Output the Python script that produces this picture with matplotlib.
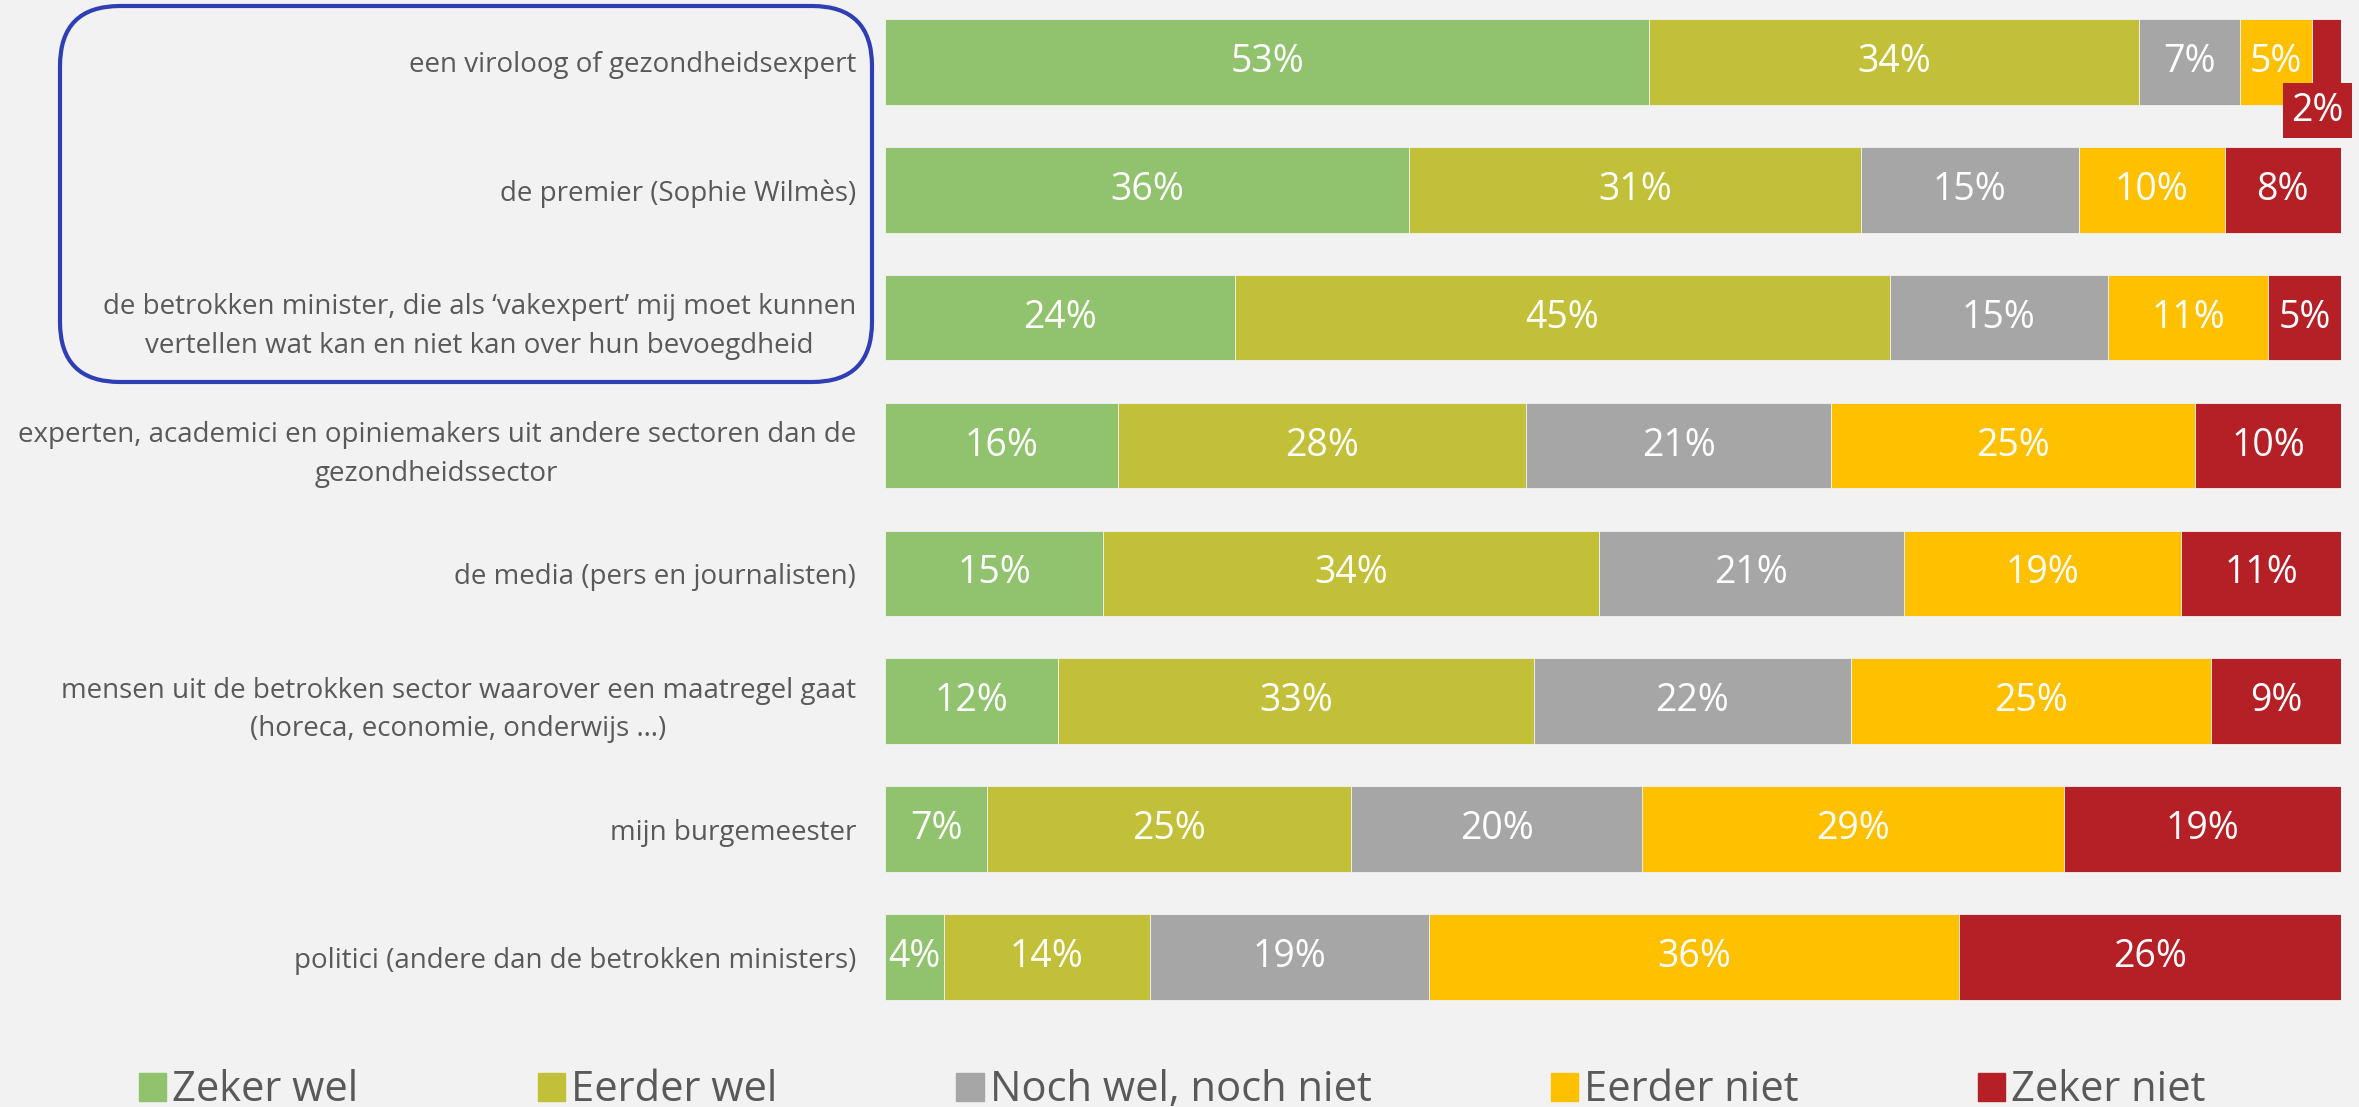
import matplotlib.pyplot as plt
from matplotlib.patches import Patch, FancyBboxPatch

plt.rcParams['font.family'] = ['Open Sans', 'DejaVu Sans']

categories = [
    'een viroloog of gezondheidsexpert',
    'de premier (Sophie Wilmès)',
    'de betrokken minister, die als ‘vakexpert’ mij moet kunnen\nvertellen wat kan en niet kan over hun bevoegdheid',
    'experten, academici en opiniemakers uit andere sectoren dan de\ngezondheidssector',
    'de media (pers en journalisten)',
    'mensen uit de betrokken sector waarover een maatregel gaat\n(horeca, economie, onderwijs …)',
    'mijn burgemeester',
    'politici (andere dan de betrokken ministers)',
]
series = ['Zeker wel', 'Eerder wel', 'Noch wel, noch niet', 'Eerder niet', 'Zeker niet']
zeker_wel = [53, 36, 24, 16, 15, 12, 7, 4]
eerder_wel = [34, 31, 45, 28, 34, 33, 25, 14]
noch = [7, 15, 15, 21, 21, 22, 20, 19]
eerder_niet = [5, 10, 11, 25, 19, 25, 29, 36]
zeker_niet = [2, 8, 5, 10, 11, 9, 19, 26]
colors = ['#91C36E', '#C2BF38', '#A6A6A6', '#FFC000', '#B52026']

values = [zeker_wel, eerder_wel, noch, eerder_niet, zeker_niet]
bg = '#F2F2F2'
txt = '#595959'

fig = plt.figure(figsize=(23.59, 11.07), dpi=100, facecolor=bg)
ax = fig.add_axes([0.3752, 0.0777, 0.6172, 0.9223])
ax.set_facecolor(bg)

n = len(categories)
totals = [sum(v[i] for v in values) for i in range(n)]
left = [0.0] * n
for s, vals in enumerate(values):
    widths = [vals[i] / totals[i] * 100 for i in range(n)]
    ax.barh(range(n), widths, left=left, height=0.67, color=colors[s],
            edgecolor=bg, linewidth=0.6, label=series[s])
    for i in range(n):
        cx = left[i] + widths[i] / 2
        if i == 0 and s == 4:
            # small slice: label in a box under the bar
            ax.annotate(f'{vals[i]}%', xy=(left[i] + widths[i], i), xytext=(-17, -35),
                        textcoords='offset points', ha='center', va='center',
                        color='white', fontsize=27, annotation_clip=False,
                        bbox=dict(boxstyle='square,pad=0.22', fc=colors[s], ec='none'))
        else:
            ax.text(cx, i, f'{vals[i]}%', ha='center', va='center',
                    color='white', fontsize=27)
    left = [left[i] + widths[i] for i in range(n)]

ax.set_xlim(0, 100)
ax.set_ylim(7.5, -0.484)
ax.set_yticks(range(n), categories, multialignment='center', linespacing=1.5)
ax.tick_params(axis='y', length=0, pad=21, labelsize=20, labelcolor=txt)
ax.set_xticks([])
for sp in ax.spines.values():
    sp.set_visible(False)

handles = [Patch(color=c) for c in colors]
fig.legend(handles, series, loc='center', bbox_to_anchor=(0.497, 0.015), ncol=5,
           frameon=False, fontsize=30, labelcolor=txt, handlelength=0.65,
           handleheight=0.65, handletextpad=0.15, columnspacing=4.3)

box = FancyBboxPatch((60, 725), 812, 376, boxstyle='round,pad=0,rounding_size=60',
                     transform=None, fill=False, ec='#2F3FB3', lw=3)
fig.patches.append(box)

fig.savefig('out.png', dpi=100, facecolor=bg)
